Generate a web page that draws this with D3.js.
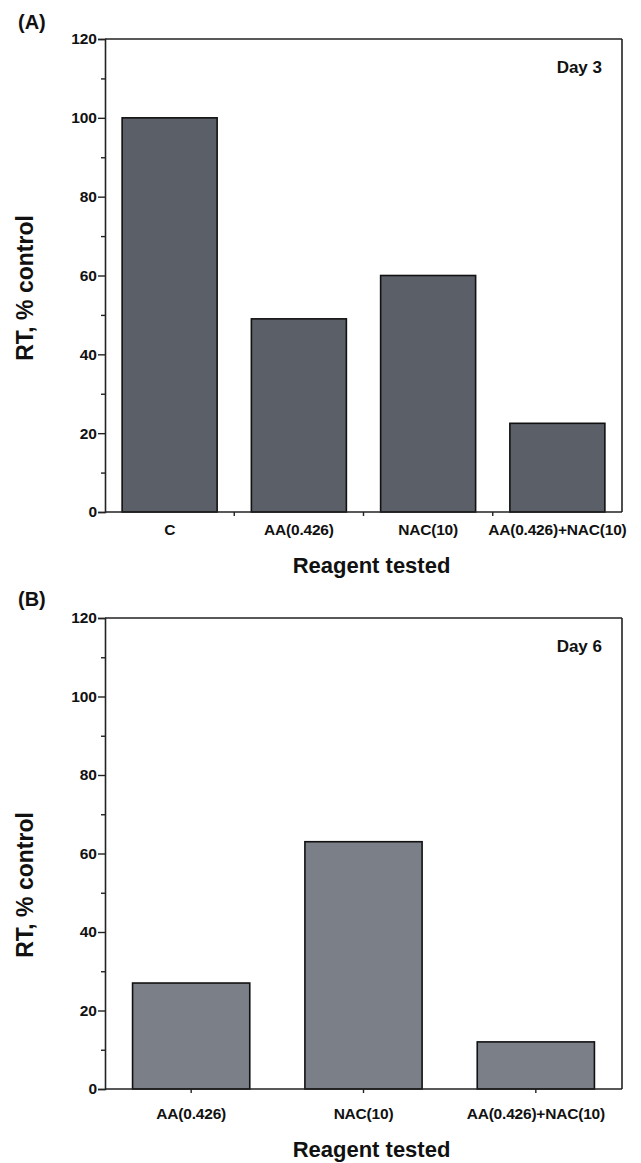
<!DOCTYPE html>
<html>
<head>
<meta charset="utf-8">
<script src="https://cdn.jsdelivr.net/npm/d3@7"></script>
<style>
  body { margin: 0; background: #fff; }
  svg { display: block; }
  text { font-family: "Liberation Sans", Arial, Helvetica, sans-serif; font-weight: bold; fill: #111; }
</style>
</head>
<body>
<svg id="chart" width="641" height="1163"></svg>
<script>
// ---- Data ----
const categoriesA = ["C", "AA(0.426)", "NAC(10)", "AA(0.426)+NAC(10)"];
const valuesA = [100, 49, 60, 22.5];
const categoriesB = ["AA(0.426)", "NAC(10)", "AA(0.426)+NAC(10)"];
const valuesB = [27, 63, 12];
const yTicks = [0, 20, 40, 60, 80, 100, 120];
const yMinorTicks = [10, 30, 50, 70, 90, 110];
const yLabel = "RT, % control";
const xLabel = "Reagent tested";

const svg = d3.select("#chart");

function panel(opts) {
  const { cats, vals, top, bottom, left, right, padding, fill, tag, tagY, day, dayY,
          tickMode, xLabY, titleY, yTitleC } = opts;
  const g = svg.append("g");
  const x = d3.scaleBand().domain(cats).range([left, right]).paddingInner(padding).paddingOuter(padding / 2);
  const y = d3.scaleLinear().domain([0, 120]).range([bottom, top]);

  // bars
  g.selectAll("rect.bar").data(vals).join("rect")
    .attr("class", "bar")
    .attr("x", (d, i) => x(cats[i]))
    .attr("width", x.bandwidth())
    .attr("y", d => y(d))
    .attr("height", d => y(0) - y(d))
    .attr("fill", fill)
    .attr("stroke", "#111")
    .attr("stroke-width", 1.6);

  // frame (top and right)
  g.append("line").attr("x1", left).attr("x2", right).attr("y1", top).attr("y2", top)
    .attr("stroke", "#222").attr("stroke-width", 1.6);
  g.append("line").attr("x1", right).attr("x2", right).attr("y1", top).attr("y2", bottom)
    .attr("stroke", "#222").attr("stroke-width", 1.6);

  // y axis
  const yAxis = d3.axisLeft(y).tickValues(yTicks).tickSize(7).tickPadding(1).tickFormat(d3.format("d"));
  const ya = g.append("g").attr("transform", `translate(${left},0)`).call(yAxis);
  ya.select(".domain").attr("stroke", "#222").attr("stroke-width", 1.6);
  ya.selectAll(".tick line").attr("stroke", "#222").attr("stroke-width", 1.4);
  ya.selectAll(".tick text").style("font-size", "15.5px").attr("fill", "#222");
  const ym = d3.axisLeft(y).tickValues(yMinorTicks).tickSize(4).tickFormat("");
  const yma = g.append("g").attr("transform", `translate(${left},0)`).call(ym);
  yma.select(".domain").remove();
  yma.selectAll(".tick line").attr("stroke", "#222").attr("stroke-width", 1.4);

  // x axis
  const xa = g.append("g").attr("transform", `translate(0,${bottom})`);
  xa.append("line").attr("x1", left).attr("x2", right).attr("y1", 0).attr("y2", 0)
    .attr("stroke", "#222").attr("stroke-width", 1.6);
  let tickXs;
  if (tickMode === "boundary") {
    tickXs = cats.slice(1).map(c => x(c) - x.step() * x.paddingInner() / 2);
  } else {
    tickXs = cats.map(c => x(c) + x.bandwidth() / 2);
  }
  xa.selectAll("line.xt").data(tickXs).join("line").attr("class", "xt")
    .attr("x1", d => d).attr("x2", d => d).attr("y1", 0).attr("y2", 4)
    .attr("stroke", "#222").attr("stroke-width", 1.4);
  xa.selectAll("text.xl").data(cats).join("text").attr("class", "xl")
    .attr("x", d => x(d) + x.bandwidth() / 2)
    .attr("y", xLabY - bottom)
    .attr("text-anchor", "middle")
    .style("font-size", "15.5px")
    .style("letter-spacing", "-0.2px")
    .text(d => d);

  // axis titles
  g.append("text").attr("x", (left + right) / 2 + 8).attr("y", titleY)
    .attr("text-anchor", "middle").style("font-size", "22px").text(xLabel);
  g.append("text").attr("transform", `translate(33,${yTitleC}) rotate(-90)`)
    .attr("text-anchor", "middle").style("font-size", "23px").text(yLabel);

  // panel tag and day label
  g.append("text").attr("x", 18).attr("y", tagY).style("font-size", "20px").text(tag);
  g.append("text").attr("x", right - 20).attr("y", dayY).attr("text-anchor", "end")
    .style("font-size", "17px").text(day);
}

panel({ cats: categoriesA, vals: valuesA, top: 39, bottom: 512, left: 105, right: 622,
        padding: 0.265, fill: "#5b5f67", tag: "(A)", tagY: 29, day: "Day 3", dayY: 73,
        tickMode: "boundary", xLabY: 535, titleY: 573, yTitleC: 288 });
panel({ cats: categoriesB, vals: valuesB, top: 618, bottom: 1089, left: 105, right: 622,
        padding: 0.32, fill: "#7b7f88", tag: "(B)", tagY: 606, day: "Day 6", dayY: 652,
        tickMode: "center", xLabY: 1119, titleY: 1157, yTitleC: 885 });
</script>
</body>
</html>
